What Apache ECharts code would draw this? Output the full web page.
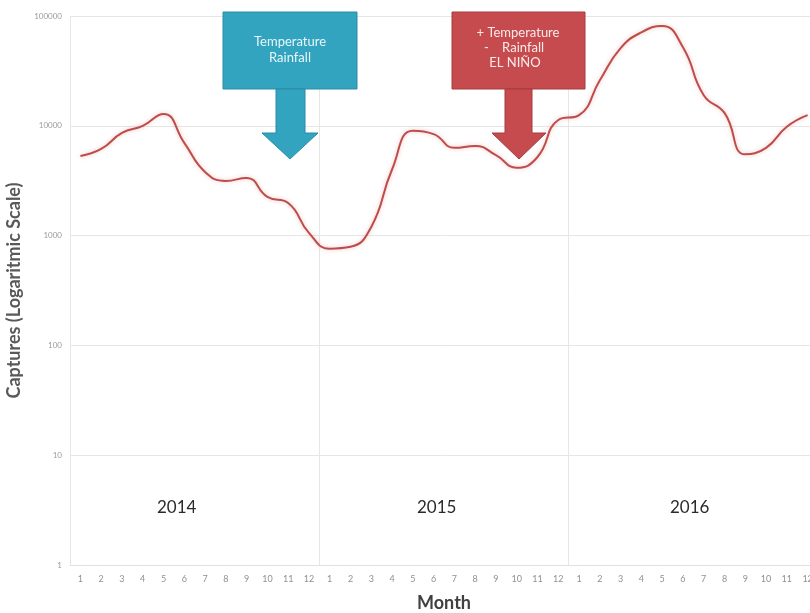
<!DOCTYPE html>
<html>
<head>
<meta charset="utf-8">
<script src="https://cdn.jsdelivr.net/npm/echarts@6/dist/echarts.min.js"></script>
<style>html,body{margin:0;padding:0;background:#fff}#c{width:810px;height:613px}</style>
</head>
<body>
<div id="c"></div>
<script>
const months = ['1','2','3','4','5','6','7','8','9','10','11','12',
                '1','2','3','4','5','6','7','8','9','10','11','12',
                '1','2','3','4','5','6','7','8','9','10','11','12'];
const captures = [5300, 6150, 8600, 10000, 12800, 7000, 3800, 3150, 3350, 2250, 1980, 1060,
                  760, 790, 1200, 4000, 9000, 8400, 6300, 6550, 5400, 4150, 5200, 11300,
                  12500, 26000, 51000, 71000, 81000, 52000, 19000, 13100, 5500, 6300, 9800, 12500];
const years = ['2014', '2015', '2016'];
const yTicks = [1, 10, 100, 1000, 10000, 100000];

const FONT = 'Lato, "Open Sans", sans-serif';
const chart = echarts.init(document.getElementById('c'));

const blue = '#33a4c0', blueEdge = '#2a8ca5';
const red = '#c64b4e', redEdge = '#a83a3d';

chart.setOption({
  animation: false,
  grid: { left: 70, width: 748, top: 16, bottom: 48, containLabel: false, outerBoundsMode: 'none' },
  xAxis: {
    type: 'category',
    data: months,
    boundaryGap: true,
    name: 'Month',
    nameLocation: 'middle',
    nameGap: 29,
    nameTextStyle: { fontFamily: FONT, fontSize: 18, fontWeight: 'bold', color: '#404040' },
    axisLine: { show: true, lineStyle: { color: '#e0e0e0', width: 1 } },
    axisTick: { show: false },
    axisLabel: { interval: 0, fontFamily: FONT, fontSize: 9, color: '#909090', margin: 10 },
    splitLine: { show: true, interval: function (i) { return i % 12 === 0; }, lineStyle: { color: '#e6e6e6', width: 1 } }
  },
  yAxis: {
    type: 'log',
    logBase: 10,
    min: yTicks[0],
    max: yTicks[yTicks.length - 1],
    name: 'Captures (Logaritmic Scale)',
    nameLocation: 'middle',
    nameGap: 44,
    nameTextStyle: { fontFamily: FONT, fontSize: 18, fontWeight: 'bold', color: '#595959' },
    axisLine: { show: false },
    axisTick: { show: false },
    axisLabel: { fontFamily: FONT, fontSize: 8, color: '#9a9a9a', margin: 8, formatter: function (v) { return String(v); } },
    splitLine: { show: true, lineStyle: { color: '#e6e6e6', width: 1 } }
  },
  series: [{
    type: 'line',
    data: captures,
    smooth: 0.5,
    symbol: 'none',
    z: 5,
    lineStyle: { color: '#bd4d4b', width: 2, shadowColor: 'rgba(230,150,150,0.6)', shadowBlur: 4 }
  }],
  graphic: [
    { type: 'text', left: 157, top: 499, z: 10, style: { text: years[0], fontFamily: FONT, fontSize: 17, fill: '#2b2b2b' } },
    { type: 'text', left: 417, top: 499, z: 10, style: { text: years[1], fontFamily: FONT, fontSize: 17, fill: '#2b2b2b' } },
    { type: 'text', left: 670, top: 499, z: 10, style: { text: years[2], fontFamily: FONT, fontSize: 17, fill: '#2b2b2b' } },

    { type: 'rect', z: 1, shape: { x: 223, y: 12, width: 134, height: 77 }, style: { fill: blue, stroke: blueEdge, lineWidth: 1 } },
    { type: 'polygon', z: 1, shape: { points: [[276,89],[305,89],[305,133],[318,133],[290,159],[262,133],[276,133]] }, style: { fill: blue, stroke: blueEdge, lineWidth: 1 } },
    { type: 'text', z: 2, x: 290, y: 50, style: { text: 'Temperature\nRainfall', align: 'center', verticalAlign: 'middle', lineHeight: 16, fontFamily: FONT, fontSize: 13, fill: '#eaf6f9' } },

    { type: 'rect', z: 1, shape: { x: 452, y: 12, width: 133, height: 77 }, style: { fill: red, stroke: redEdge, lineWidth: 1 } },
    { type: 'polygon', z: 1, shape: { points: [[505,89],[532,89],[532,133],[546,133],[519,159],[492,133],[505,133]] }, style: { fill: red, stroke: redEdge, lineWidth: 1 } },
    { type: 'text', z: 2, x: 518, y: 33, style: { text: '+ Temperature', align: 'center', verticalAlign: 'middle', fontFamily: FONT, fontSize: 13, fill: '#fbeaea' } },
    { type: 'text', z: 2, x: 514, y: 48, style: { text: '-    Rainfall', align: 'center', verticalAlign: 'middle', fontFamily: FONT, fontSize: 13, fill: '#fbeaea' } },
    { type: 'text', z: 2, x: 515, y: 63, style: { text: 'EL NIÑO', align: 'center', verticalAlign: 'middle', fontFamily: FONT, fontSize: 13, fill: '#fbeaea' } }
  ]
});
</script>
</body>
</html>
